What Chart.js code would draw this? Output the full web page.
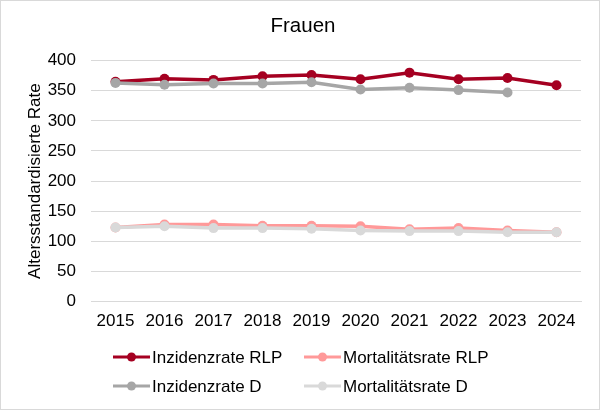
<!DOCTYPE html>
<html><head><meta charset="utf-8">
<script src="https://cdn.jsdelivr.net/npm/chart.js@4/dist/chart.umd.min.js"></script>
<style>html,body{margin:0;padding:0;background:#fff}#wrap{width:600px;height:410px;position:relative}</style>
</head><body><div id="wrap"><canvas id="c" width="600" height="410"></canvas></div>
<script>
const years = ['2015','2016','2017','2018','2019','2020','2021','2022','2023','2024'];
const inzidenzRLP = [365, 370, 368, 374, 376, 369, 380, 369, 371, 359];
const mortalitaetRLP = [123, 128, 128, 126, 126, 125, 120, 122, 118, 115];
const inzidenzD = [363, 360, 362, 362, 364, 352, 355, 351, 347, null];
const mortalitaetD = [123, 125, 122, 122, 121, 118, 117, 117, 115, 115];
const yTicks = [0, 50, 100, 150, 200, 250, 300, 350, 400];
const seriesNames = ['Inzidenzrate RLP', 'Mortalitätsrate RLP', 'Inzidenzrate D', 'Mortalitätsrate D'];
const seriesColors = ['#A50021', '#FF9999', '#A6A6A6', '#D9D9D9'];

const FONT = '"Liberation Sans", Arial, sans-serif';

const bgBorder = {
  id: 'bgBorder',
  beforeDraw(chart) {
    const ctx = chart.ctx;
    ctx.save();
    ctx.fillStyle = '#fff';
    ctx.fillRect(0, 0, chart.width, chart.height);
    ctx.strokeStyle = '#D9D9D9';
    ctx.lineWidth = 1;
    ctx.strokeRect(0.5, 0.5, chart.width - 1, chart.height - 1);
    ctx.restore();
  }
};

const customLegend = {
  id: 'customLegend',
  afterDraw(chart) {
    const ctx = chart.ctx;
    const cols = [113, 304];
    const rows = [357, 386];
    ctx.save();
    ctx.font = '17px ' + FONT;
    ctx.textBaseline = 'middle';
    ctx.textAlign = 'left';
    chart.data.datasets.forEach((ds, i) => {
      const x = cols[i % 2];
      const y = rows[Math.floor(i / 2)];
      ctx.strokeStyle = ds.borderColor;
      ctx.lineWidth = 3;
      ctx.beginPath();
      ctx.moveTo(x, y);
      ctx.lineTo(x + 37, y);
      ctx.stroke();
      ctx.fillStyle = ds.backgroundColor;
      ctx.beginPath();
      ctx.arc(x + 18.5, y, 4.5, 0, Math.PI * 2);
      ctx.fill();
      ctx.fillStyle = '#000';
      ctx.fillText(ds.label, x + 39, y + 1);
    });
    ctx.restore();
  }
};

const datasetsData = [inzidenzRLP, mortalitaetRLP, inzidenzD, mortalitaetD];
const datasets = datasetsData.map((d, i) => ({
  label: seriesNames[i],
  data: d,
  borderColor: seriesColors[i],
  backgroundColor: seriesColors[i],
  pointBackgroundColor: seriesColors[i],
  pointBorderColor: seriesColors[i],
  borderWidth: 3.5,
  pointRadius: 5,
  pointBorderWidth: 0,
  tension: 0,
  spanGaps: false,
  order: 4 - i
}));

new Chart(document.getElementById('c'), {
  type: 'line',
  data: { labels: years, datasets },
  options: {
    responsive: false,
    animation: false,
    devicePixelRatio: 1,
    layout: { padding: { left: 25, right: 19, top: 0, bottom: 68 } },
    plugins: {
      legend: { display: false },
      tooltip: { enabled: false },
      title: {
        display: true,
        text: 'Frauen',
        color: '#000',
        font: { family: FONT, size: 20.5, weight: 'normal' },
        padding: { top: 14, bottom: 22 }
      }
    },
    scales: {
      x: {
        offset: true,
        grid: { display: false, drawTicks: false },
        border: { display: true, color: '#D9D9D9', width: 1 },
        ticks: { color: '#000', font: { family: FONT, size: 17 }, padding: 10 }
      },
      y: {
        min: 0, max: 400,
        afterBuildTicks(scale) { scale.ticks = yTicks.map(v => ({ value: v })); },
        afterFit(scale) { scale.width = 66; },
        grid: { color: '#D9D9D9', lineWidth: 1, drawTicks: false },
        border: { display: false },
        ticks: { color: '#000', font: { family: FONT, size: 17 }, padding: 15 },
        title: {
          display: true,
          text: 'Altersstandardisierte Rate',
          color: '#000',
          font: { family: FONT, size: 17 },
          padding: { top: 0, bottom: 0 }
        }
      }
    }
  },
  plugins: [bgBorder, customLegend]
});
</script>
</body></html>
